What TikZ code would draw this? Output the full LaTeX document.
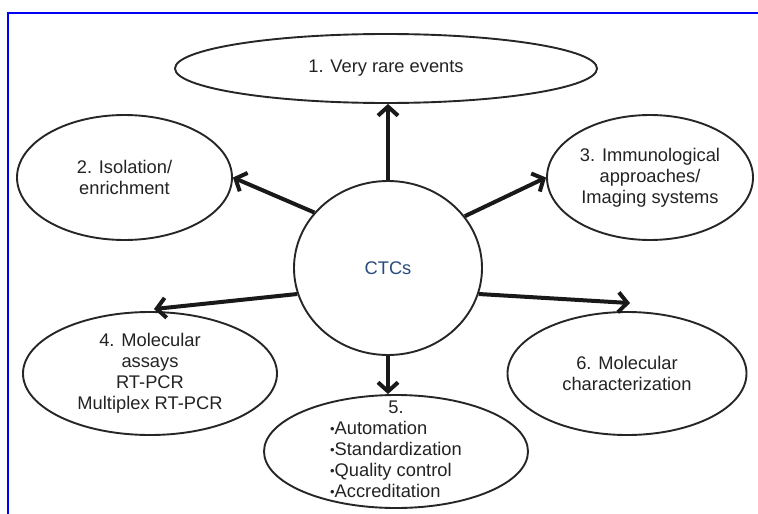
\documentclass[tikz,border=0pt]{standalone}
\usepackage{fontspec}
\setmainfont{Liberation Sans}
\usetikzlibrary{shapes.geometric,arrows.meta}
\definecolor{ctcblue}{RGB}{40,75,125}
\definecolor{txtgray}{RGB}{35,35,35}
\definecolor{frameblue}{RGB}{0,0,245}
\newcommand{\bul}{\raisebox{1.2pt}{\fontsize{13}{13}\selectfont •}}
\tikzset{
  bub/.style={ellipse, draw=black!85, line width=1.9pt, inner sep=0pt, align=center,
    text=txtgray, font=\fontsize{18.3}{21}\selectfont},
  lbl/.style={inner sep=0pt, text=txtgray, font=\fontsize{18.3}{21}\selectfont},
  arr/.style={line width=4pt, draw=black!90, -{Straight Barb[length=9pt,width=20pt]}}
}
\begin{document}
\begin{tikzpicture}[x=1pt,y=-1pt]
\useasboundingbox (0,0) rectangle (758,514);
\fill[white] (0,0) rectangle (758,514);
\draw[frameblue, line width=2.5pt] (8,520) -- (8,13) -- (765,13);

\node[bub, minimum width=422pt, minimum height=69pt] (e1) at (386,68.5) {1. Very rare events};
\node[bub, minimum width=215pt, minimum height=125pt] (e2) at (124.5,177.5) {2. Isolation/\\enrichment};
\node[bub, minimum width=206pt, minimum height=125pt] (e3) at (650,177.5) {3. Immunological\\approaches/\\Imaging systems};
\node[bub, minimum width=188pt, minimum height=174pt, text=ctcblue] (ctc) at (388,268) {CTCs};
\node[bub, minimum width=254pt, minimum height=123pt] (e4) at (150,373.5) {4. Molecular\\assays\\RT-PCR\\Multiplex RT-PCR};
\node[bub, minimum width=239pt, minimum height=123pt] (e6) at (627,373.5) {6. Molecular\\characterization};
\node[bub, minimum width=264pt, minimum height=113pt] (e5) at (396,451.5) {};
\node[lbl] (e5t) at (e5.center) {\begin{tabular}{@{}l@{}}\multicolumn{1}{@{}c@{}}{5.}\\
\bul Automation\\ \bul Standardization\\ \bul Quality control\\ \bul Accreditation\end{tabular}};

\draw[arr] (ctc.north) -- (ctc.north |- e1.south);
\draw[arr] (ctc.143) -- (e2.east);
\draw[arr] (ctc.34) -- (e3.west);
\draw[arr] (ctc.196) -- ([xshift=4pt,yshift=2pt]e4.north);
\draw[arr] (ctc.344) -- ([xshift=3pt,yshift=8pt]e6.north);
\draw[arr] (ctc.south) -- (ctc.south |- e5.north);
\end{tikzpicture}
\end{document}
